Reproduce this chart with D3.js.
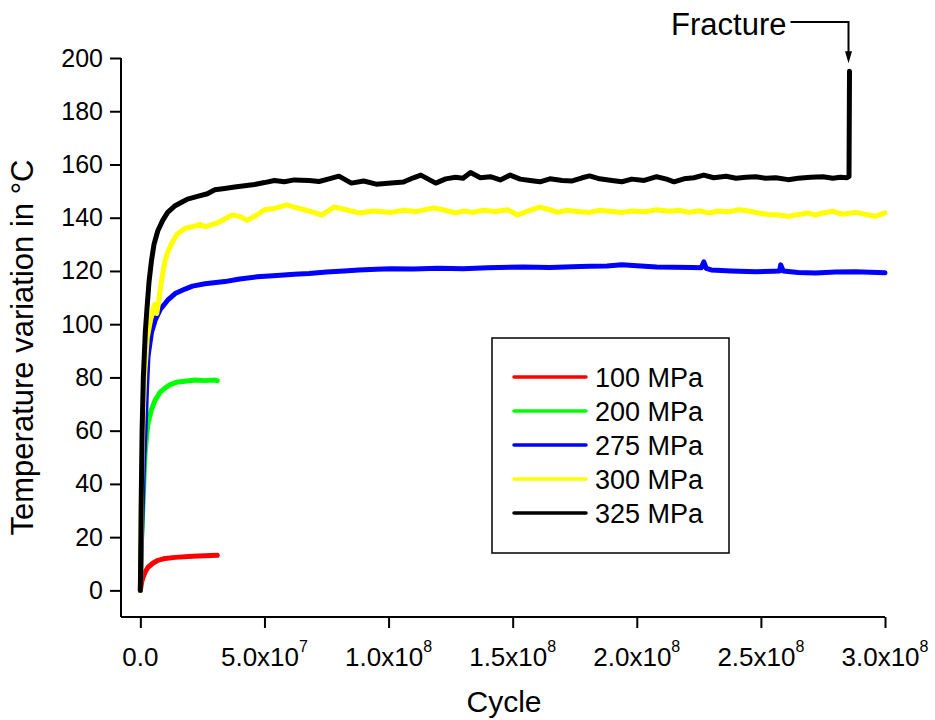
<!DOCTYPE html>
<html>
<head>
<meta charset="utf-8">
<script src="https://cdn.jsdelivr.net/npm/d3@7"></script>
<style>
  html, body { margin: 0; padding: 0; background: #fff; }
  svg { display: block; font-family: "Liberation Sans", Arial, sans-serif; }
</style>
</head>
<body>
<svg id="chart" width="935" height="720"></svg>
<script>
// ---------- data ----------
const seriesNames = ["100 MPa", "200 MPa", "275 MPa", "300 MPa", "325 MPa"];
const seriesColors = ["#ff0000", "#00ff00", "#0000ff", "#ffff00", "#000000"];

// [cycle, temperature variation °C]
const data100 = [[0,0],[0.5e6,3],[1.1e6,5],[2e6,7],[3.1e6,8.7],[5e6,10.2],[7.1e6,11.3],[1e7,12],[1.4e7,12.4],[2.1e7,12.8],[2.6e7,13],[3.1e7,13.2]];

const data200 = [[0,0],[0.5e6,20],[1.1e6,33],[1.5e6,43],[1.9e6,51.5],[2.5e6,58],[3.1e6,62.8],[4.5e6,68],[5.9e6,71.4],[8e6,74.5],[9.9e6,76],[1.2e7,77.3],[1.5e7,78.3],[1.8e7,78.6],[2.2e7,79],[2.6e7,78.8],[3.0e7,79],[3.1e7,78.8]];

const data275 = [[0,0],[0.6e6,25],[1.2e6,45],[1.9e6,60],[2.5e6,76],[3.1e6,88],[4.5e6,97],[6e6,101.6],[8e6,105.5],[1.1e7,109],[1.4e7,111.5],[1.8e7,113.2],[2.1e7,114.3],[2.6e7,115.2],[3.4e7,116],[4.0e7,117],[4.7e7,117.8],[5.5e7,118.3],[6.2e7,118.8],[6.8e7,119],[7.5e7,119.6],[8.2e7,120],[8.8e7,120.4],[9.5e7,120.6],[1.01e8,120.8],[1.1e8,120.7],[1.2e8,121],[1.3e8,120.8],[1.4e8,121.2],[1.54e8,121.5],[1.65e8,121.3],[1.74e8,121.6],[1.81e8,121.8],[1.88e8,121.9],[1.94e8,122.3],[2.0e8,122],[2.08e8,121.5],[2.15e8,121.4],[2.22e8,121.3],[2.26e8,121.2],[2.27e8,123.4],[2.28e8,121],[2.30e8,120.4],[2.38e8,120],[2.48e8,119.7],[2.55e8,119.9],[2.575e8,120],[2.58e8,122.3],[2.59e8,120],[2.65e8,119.4],[2.72e8,119.2],[2.80e8,119.6],[2.88e8,119.7],[2.94e8,119.5],[3.0e8,119.3]];

const data300 = [[0,0],[0.5e6,40],[1e6,62],[1.8e6,82],[2.8e6,95],[4e6,101],[5.2e6,106],[5.8e6,107.5],[6.6e6,104],[7.3e6,108],[8e6,113],[9e6,119],[1e7,124],[1.1e7,127],[1.3e7,131],[1.5e7,134],[1.8e7,136],[2.1e7,136.6],[2.4e7,137.5],[2.6e7,136.6],[2.9e7,137.5],[3.1e7,138],[3.4e7,139.5],[3.7e7,141],[4.0e7,140.5],[4.3e7,139],[4.7e7,141],[5.0e7,143],[5.4e7,143.5],[5.9e7,144.8],[6.2e7,144],[6.6e7,143],[7.0e7,142],[7.3e7,141],[7.8e7,144],[8.3e7,143],[8.8e7,141.8],[9.4e7,142.5],[1.01e8,142],[1.06e8,142.8],[1.11e8,142.3],[1.18e8,143.7],[1.22e8,143],[1.27e8,141.8],[1.30e8,142.5],[1.34e8,142],[1.38e8,142.8],[1.43e8,142.3],[1.48e8,143],[1.52e8,141],[1.56e8,142.5],[1.61e8,144],[1.65e8,143],[1.68e8,142],[1.72e8,142.8],[1.76e8,142.3],[1.81e8,142],[1.85e8,142.8],[1.90e8,142.3],[1.94e8,142],[1.98e8,142.5],[2.03e8,142.2],[2.08e8,143],[2.13e8,142.4],[2.17e8,142.8],[2.21e8,142],[2.25e8,142.6],[2.29e8,141.8],[2.33e8,142.5],[2.37e8,142.2],[2.41e8,143],[2.45e8,142.5],[2.49e8,141.8],[2.53e8,141.2],[2.57e8,141],[2.61e8,140.5],[2.65e8,141.2],[2.69e8,141.8],[2.72e8,141],[2.75e8,141.8],[2.79e8,142.4],[2.83e8,141.3],[2.88e8,142],[2.92e8,141.3],[2.96e8,140.5],[3.0e8,141.8]];

const data325 = [[0,0],[0.3e6,30],[0.7e6,60],[1.2e6,80],[2e6,97],[2.6e6,105],[3.5e6,116],[4.5e6,124],[5.5e6,130],[7e6,135],[9e6,139],[1.1e7,142],[1.4e7,144.5],[1.7e7,146],[1.9e7,147],[2.3e7,148],[2.7e7,149],[3.0e7,150.5],[3.4e7,151],[3.8e7,151.5],[4.2e7,152],[4.6e7,152.5],[5.0e7,153.2],[5.4e7,154],[5.8e7,153.5],[6.2e7,154.2],[6.8e7,154],[7.2e7,153.6],[7.6e7,154.6],[8.0e7,155.6],[8.5e7,153],[9.0e7,153.8],[9.5e7,152.6],[1.01e8,153],[1.06e8,153.4],[1.10e8,155],[1.13e8,156],[1.16e8,154.5],[1.19e8,153],[1.23e8,154.6],[1.27e8,155.2],[1.30e8,154.8],[1.33e8,157],[1.37e8,155],[1.41e8,155.4],[1.45e8,154.2],[1.49e8,156],[1.53e8,154.5],[1.57e8,154],[1.61e8,153.5],[1.65e8,154.6],[1.70e8,154],[1.74e8,153.8],[1.78e8,155],[1.81e8,155.7],[1.85e8,154.6],[1.90e8,154],[1.94e8,153.5],[1.98e8,154.5],[2.03e8,154],[2.08e8,155.4],[2.12e8,154.5],[2.15e8,153.5],[2.19e8,154.6],[2.23e8,155],[2.27e8,156],[2.31e8,155],[2.36e8,155.6],[2.40e8,154.8],[2.44e8,155.2],[2.48e8,155.4],[2.52e8,154.8],[2.56e8,155],[2.61e8,154.3],[2.65e8,154.8],[2.70e8,155.2],[2.75e8,155.4],[2.79e8,154.8],[2.82e8,155.2],[2.847e8,155],[2.855e8,155.5],[2.857e8,195]];

const seriesData = [data100, data200, data275, data300, data325];

const xTickValues = [0, 5e7, 1e8, 1.5e8, 2e8, 2.5e8, 3e8];
const xTickMantissa = ["0.0", "5.0", "1.0", "1.5", "2.0", "2.5", "3.0"];
const xTickExponent = [null, "7", "8", "8", "8", "8", "8"];
const yTickValues = [0, 20, 40, 60, 80, 100, 120, 140, 160, 180, 200];

const xTitle = "Cycle";
const yTitle = "Temperature variation in °C";
const fractureLabel = "Fracture";
const fracturePoint = [2.857e8, 195];

// ---------- drawing ----------
const svg = d3.select("#chart");
const x = d3.scaleLinear().domain([-7.8e6, 3e8]).range([121, 885]);
const y = d3.scaleLinear().domain([-10, 200]).range([617, 58]);

// lines
const line = d3.line().x(d => x(d[0])).y(d => y(d[1])).curve(d3.curveLinear);
const gLines = svg.append("g");
seriesData.forEach((s, i) => {
  gLines.append("path")
    .datum(s)
    .attr("fill", "none")
    .attr("stroke", seriesColors[i])
    .attr("stroke-width", 5)
    .attr("stroke-linejoin", "round")
    .attr("stroke-linecap", "round")
    .attr("d", line);
});

// axes
const xMinor = d3.range(2.5e7, 3e8, 5e7);
const yMinor = d3.range(10, 200, 20);

const gx = svg.append("g").attr("transform", "translate(0,617)");
gx.call(d3.axisBottom(x).tickValues(xMinor).tickSize(6).tickFormat(""));
gx.call(d3.axisBottom(x).tickValues(xTickValues).tickSize(11).tickSizeOuter(0).tickFormat(""));
gx.selectAll("path.domain").attr("d", `M${x.range()[0]},0H${x.range()[1]}`);
gx.selectAll("path, line").attr("stroke", "#000").attr("stroke-width", 2);

// x tick labels with superscripts
xTickValues.forEach((v, i) => {
  const t = svg.append("text")
    .attr("x", x(v))
    .attr("y", 666)
    .attr("text-anchor", "middle")
    .attr("font-size", 26)
    .attr("fill", "#000");
  if (xTickExponent[i]) {
    t.append("tspan").text(xTickMantissa[i] + "x10");
    t.append("tspan").attr("dy", -14).attr("font-size", 16).text(xTickExponent[i]);
  } else {
    t.text(xTickMantissa[i]);
  }
});

const gy = svg.append("g").attr("transform", "translate(121,0)");
gy.call(d3.axisLeft(y).tickValues(yMinor).tickSize(6).tickFormat(""));
gy.call(d3.axisLeft(y).tickValues(yTickValues).tickSize(11).tickSizeOuter(0).tickPadding(7).tickFormat(d3.format("d")));
gy.selectAll("path.domain").attr("d", `M0,${y.range()[0]}V${y.range()[1]}`);
gy.selectAll("path, line").attr("stroke", "#000").attr("stroke-width", 2);
gy.selectAll("text").attr("font-size", 25).attr("font-family", "Liberation Sans, Arial, sans-serif").attr("fill", "#000");

// axis titles
svg.append("text")
  .attr("x", (x.range()[0] + x.range()[1]) / 2 + 1)
  .attr("y", 712)
  .attr("text-anchor", "middle")
  .attr("font-size", 30)
  .text(xTitle);

svg.append("text")
  .attr("transform", `translate(33,${(y.range()[0] + y.range()[1]) / 2 + 10}) rotate(-90)`)
  .attr("text-anchor", "middle")
  .attr("font-size", 31)
  .text(yTitle);

// fracture annotation
const fx = x(fracturePoint[0]) - 1;
const fy = y(fracturePoint[1]);
svg.append("text")
  .attr("x", fx - 62)
  .attr("y", 35)
  .attr("text-anchor", "end")
  .attr("font-size", 31)
  .text(fractureLabel);
svg.append("path")
  .attr("d", `M${fx - 58},22H${fx}V${fy - 18}`)
  .attr("fill", "none").attr("stroke", "#000").attr("stroke-width", 2);
svg.append("path")
  .attr("d", `M${fx - 3.5},${fy - 20}L${fx + 3.5},${fy - 20}L${fx},${fy - 8}Z`)
  .attr("fill", "#000");

// legend
const legend = svg.append("g");
legend.append("rect")
  .attr("x", 492).attr("y", 338).attr("width", 237).attr("height", 215)
  .attr("fill", "#fff").attr("stroke", "#000").attr("stroke-width", 1.5);
seriesNames.forEach((name, i) => {
  const cy = 377 + i * 34;
  legend.append("line")
    .attr("x1", 514).attr("x2", 586).attr("y1", cy).attr("y2", cy)
    .attr("stroke", seriesColors[i]).attr("stroke-width", 3.5).attr("stroke-linecap", "round");
  legend.append("text")
    .attr("x", 595).attr("y", cy + 9.5)
    .attr("font-size", 27)
    .text(name);
});
</script>
</body>
</html>
